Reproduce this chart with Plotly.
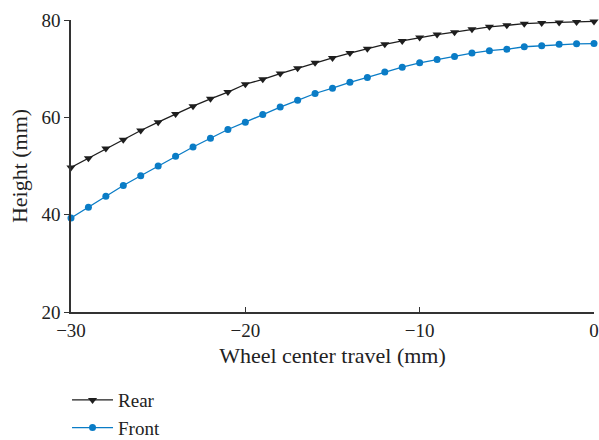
import plotly.graph_objects as go

# Wheel center travel (mm)
travel = list(range(-30, 1))

# Height (mm) for each travel position
rear_height = [49.7, 51.6, 53.6, 55.4, 57.3, 59.0, 60.7, 62.3, 63.8, 65.2,
               66.8, 67.8, 69.0, 70.1, 71.2, 72.2, 73.2, 74.1, 75.0, 75.7,
               76.4, 77.0, 77.5, 78.1, 78.6, 78.9, 79.25, 79.4, 79.5, 79.6, 79.7]
front_height = [39.3, 41.5, 43.8, 46.0, 48.0, 50.0, 52.0, 53.9, 55.7, 57.5,
                59.0, 60.6, 62.1, 63.5, 64.9, 66.0, 67.2, 68.2, 69.3, 70.3,
                71.2, 71.9, 72.5, 73.2, 73.7, 74.0, 74.5, 74.7, 75.0, 75.1, 75.15]

x_ticks = [-30, -20, -10, 0]
y_ticks = [20, 40, 60, 80]

FONT = "Liberation Serif"
AXIS_COLOR = "#333333"

fig = go.Figure()
fig.add_trace(go.Scatter(
    x=travel, y=rear_height, name="Rear", mode="lines+markers",
    line=dict(color="#1e1e1e", width=1.3),
    marker=dict(symbol="triangle-down", size=8, color="#1e1e1e"),
    cliponaxis=False,
))
fig.add_trace(go.Scatter(
    x=travel, y=front_height, name="Front", mode="lines+markers",
    line=dict(color="#0a7cc6", width=1.3),
    marker=dict(symbol="circle", size=7, color="#0a7cc6"),
    cliponaxis=False,
))

fig.update_layout(
    width=599, height=440,
    margin=dict(l=71, r=5, t=20, b=128, autoexpand=False),
    paper_bgcolor="white", plot_bgcolor="white",
    font=dict(family=FONT, size=18, color="#222222"),
    showlegend=True,
    legend=dict(
        x=-0.0076, xanchor="left",
        y=0.134, yref="container", yanchor="top",
        font=dict(family=FONT, size=19, color="#222222"),
        bgcolor="rgba(0,0,0,0)", tracegroupgap=0, itemwidth=41,
    ),
)
fig.update_xaxes(
    range=[-30, 0], tickvals=x_ticks, ticks="inside", ticklen=5,
    tickcolor=AXIS_COLOR, tickwidth=1.2,
    showline=True, linecolor=AXIS_COLOR, linewidth=1.6,
    showgrid=False, zeroline=False, ticklabeloverflow="allow",
    automargin=False,
    title=dict(text="Wheel center travel (mm)", standoff=8),
    tickfont=dict(family=FONT, size=19),
)
fig.update_yaxes(
    range=[20, 80], tickvals=y_ticks, ticks="outside", ticklen=5,
    tickcolor=AXIS_COLOR, tickwidth=1.2,
    showline=True, linecolor=AXIS_COLOR, linewidth=1.6,
    showgrid=False, zeroline=False, automargin=False,
    title=dict(text="Height (mm)", standoff=8),
    tickfont=dict(family=FONT, size=19),
)

fig.write_html("out.html")
